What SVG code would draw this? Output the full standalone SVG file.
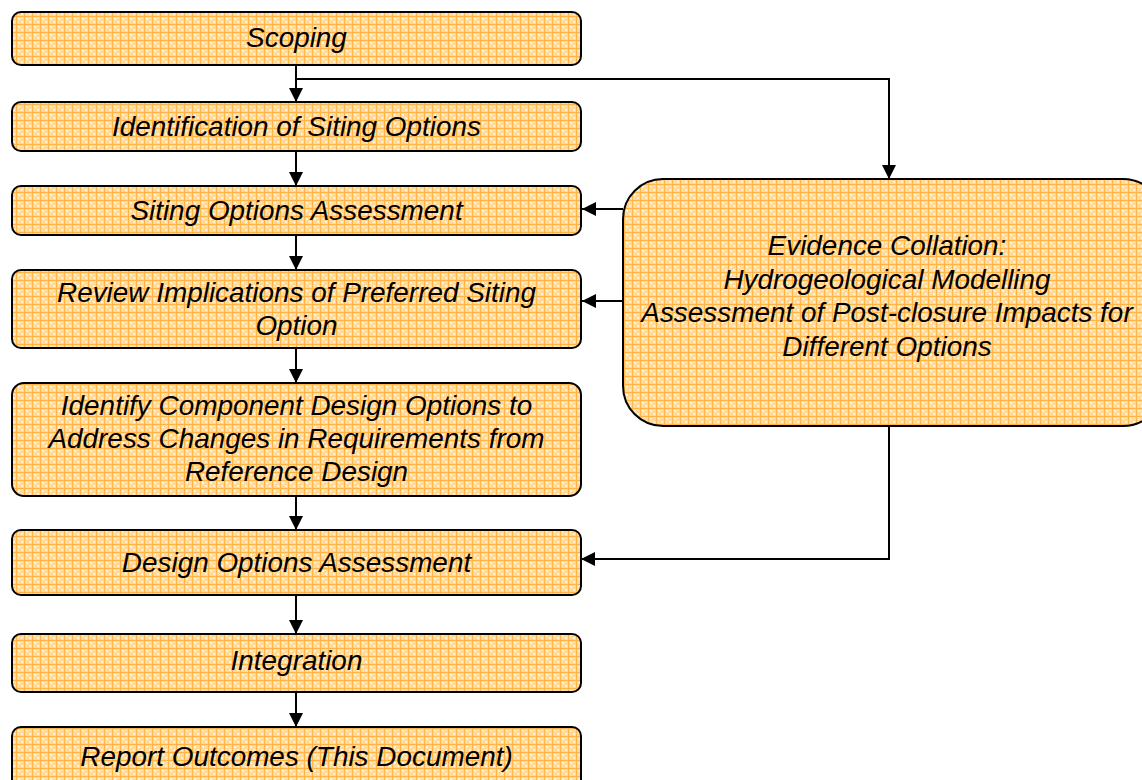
<svg xmlns="http://www.w3.org/2000/svg" width="1142" height="780" viewBox="0 0 1142 780">
  <defs>
    <!-- small orange grid/check texture used as the box fill -->
    <pattern id="grid" width="8" height="8" patternUnits="userSpaceOnUse">
      <rect width="8" height="8" fill="#ffd89c"/>
      <rect x="2" y="2" width="2" height="2" fill="#fff0d6"/>
      <rect x="5" y="5" width="2" height="2" fill="#fff0d6"/>
      <rect x="5" y="2" width="1" height="1" fill="#ffe7c2"/>
      <rect x="2" y="5" width="1" height="1" fill="#ffe7c2"/>
      <rect x="0" y="0" width="1" height="8" fill="#ffb445"/>
      <rect x="0" y="0" width="8" height="1" fill="#ffb445"/>
    </pattern>
    <marker id="arrow" markerUnits="userSpaceOnUse" markerWidth="14" markerHeight="14" viewBox="0 0 14 14" refX="14" refY="7" orient="auto">
      <path d="M0,0 L14,7 L0,14 Z" fill="#000"/>
    </marker>
  </defs>
  <style>
    .box { fill: url(#grid); stroke: #000; stroke-width: 2; }
    .lbl { font-family: "Liberation Sans", Arial, sans-serif; font-style: italic; font-size: 27.9px; fill: #000; text-anchor: middle; }
    .conn { fill: none; stroke: #000; stroke-width: 2; }
  </style>

  <rect width="1142" height="780" fill="#fff"/>

  <g id="connectors">
    <path class="conn" d="M296,65 V102" marker-end="url(#arrow)"/>
    <path class="conn" d="M296,79 H889 V179" marker-end="url(#arrow)"/>
    <path class="conn" d="M296,151 V186" marker-end="url(#arrow)"/>
    <path class="conn" d="M296,235 V270" marker-end="url(#arrow)"/>
    <path class="conn" d="M296,348 V383" marker-end="url(#arrow)"/>
    <path class="conn" d="M296,496 V530" marker-end="url(#arrow)"/>
    <path class="conn" d="M296,595 V634" marker-end="url(#arrow)"/>
    <path class="conn" d="M296,692 V727" marker-end="url(#arrow)"/>
    <path class="conn" d="M623,209 H582" marker-end="url(#arrow)"/>
    <path class="conn" d="M623,301 H582" marker-end="url(#arrow)"/>
    <path class="conn" d="M889,426 V559 H581" marker-end="url(#arrow)"/>
  </g>

  <g id="scoping">
    <rect class="box" x="12" y="12" width="569" height="53" rx="9"/>
    <text class="lbl" x="296.5" y="47">Scoping</text>
  </g>
  <g id="identification">
    <rect class="box" x="12" y="102" width="569" height="49" rx="9"/>
    <text class="lbl" x="296.5" y="136">Identification of Siting Options</text>
  </g>
  <g id="siting-assessment">
    <rect class="box" x="12" y="186" width="569" height="49" rx="9"/>
    <text class="lbl" x="296.5" y="220">Siting Options Assessment</text>
  </g>
  <g id="review">
    <rect class="box" x="12" y="270" width="569" height="78" rx="9"/>
    <text class="lbl" x="296.5" y="302">Review Implications of Preferred Siting</text>
    <text class="lbl" x="296.5" y="335">Option</text>
  </g>
  <g id="component-design">
    <rect class="box" x="12" y="383" width="569" height="113" rx="12"/>
    <text class="lbl" x="296.5" y="415">Identify Component Design Options to</text>
    <text class="lbl" x="296.5" y="448">Address Changes in Requirements from</text>
    <text class="lbl" x="296.5" y="481">Reference Design</text>
  </g>
  <g id="design-assessment">
    <rect class="box" x="12" y="530" width="569" height="65" rx="9"/>
    <text class="lbl" x="296.5" y="572">Design Options Assessment</text>
  </g>
  <g id="integration">
    <rect class="box" x="12" y="634" width="569" height="58" rx="9"/>
    <text class="lbl" x="296.5" y="670">Integration</text>
  </g>
  <g id="report">
    <rect class="box" x="12" y="727" width="569" height="70" rx="9"/>
    <text class="lbl" x="296.5" y="766">Report Outcomes (This Document)</text>
  </g>
  <g id="evidence">
    <rect class="box" x="623" y="179" width="540" height="247" rx="40"/>
    <text class="lbl" x="887" y="255">Evidence Collation:</text>
    <text class="lbl" x="887" y="289">Hydrogeological Modelling</text>
    <text class="lbl" x="887" y="322">Assessment of Post-closure Impacts for</text>
    <text class="lbl" x="887" y="356">Different Options</text>
  </g>
</svg>
